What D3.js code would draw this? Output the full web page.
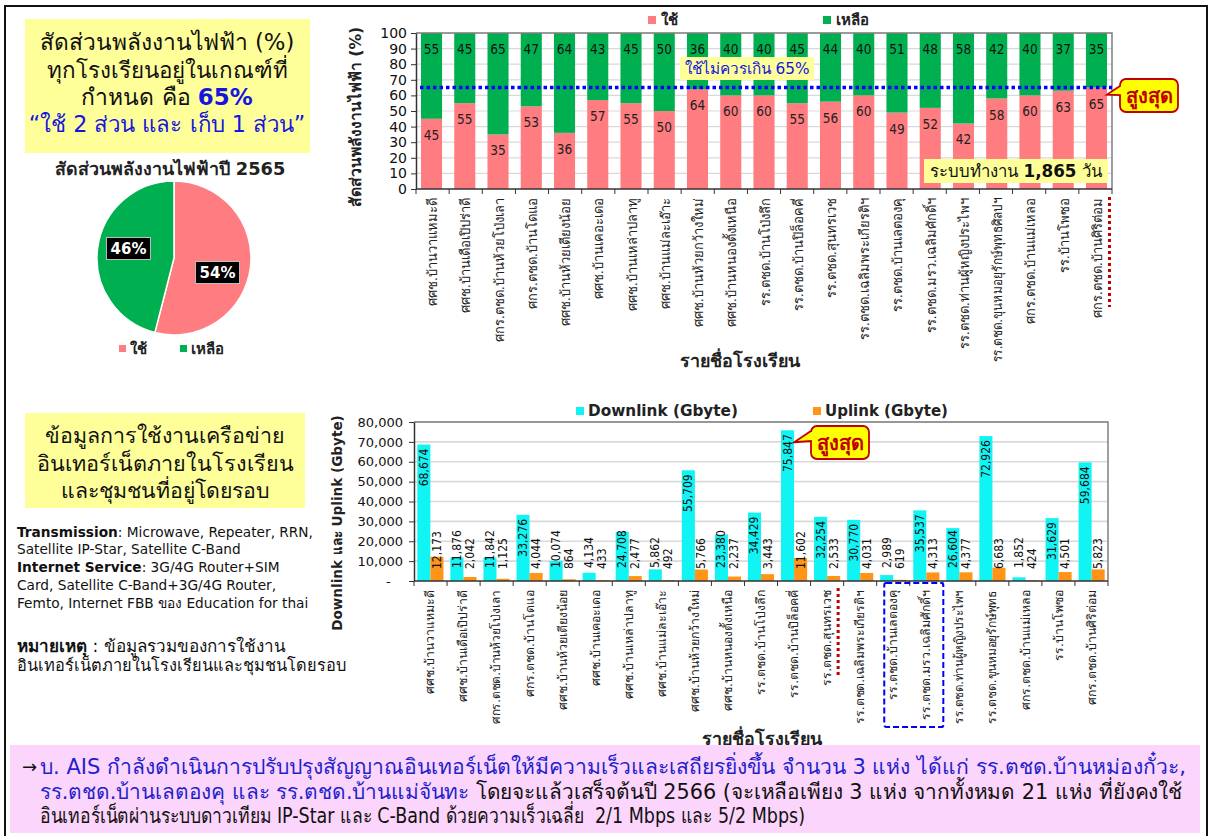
<!DOCTYPE html>
<html>
<head>
<meta charset="utf-8">
<script src="https://cdn.jsdelivr.net/npm/d3@7"></script>
<style>
  html, body { margin: 0; padding: 0; background: #fff; }
  svg { display: block; font-family: Tahoma, "DejaVu Sans", "Noto Sans", sans-serif; }
</style>
</head>
<body>
<svg id="slide" width="1211" height="836"></svg>
<script>
// ---- data -------------------------------------------------------------
const schools = [
  "ศศช.บ้านวาแหมะดี", "ศศช.บ้านเดือเปิปร่าดี", "ศกร.ตชด.บ้านห้วยโป่งเลา", "ศกร.ตชด.บ้านโดแอ",
  "ศศช.บ้านห้วยเตียงน้อย", "ศศช.บ้านเคอะเดอ", "ศศช.บ้านเหล่าปลาทู", "ศศช.บ้านแม่ละเอ๊าะ",
  "ศศช.บ้านห้วยกว้างใหม่", "ศศช.บ้านหนองตั้งเหนือ", "รร.ตชด.บ้านโป่งลึก", "รร.ตชด.บ้านปิล็อคคี่",
  "รร.ตชด.สุนทรเวช", "รร.ตชด.เฉลิมพระเกียรติฯ", "รร.ตชด.บ้านเลตองคุ", "รร.ตชด.มรว.เฉลิมศักดิ์ฯ",
  "รร.ตชด.ท่านผู้หญิงประไพฯ", "รร.ตชด.ขุนหมอยุรักษ์พุทธศิลปฯ", "ศกร.ตชด.บ้านแม่เหลอ", "รร.บ้านโพซอ",
  "ศกร.ตชด.บ้านศิริต่อม"
];
// the same schools as named on the network chart axis
const netSchools = [
  "ศศช.บ้านวาแหมะดี", "ศศช.บ้านเดือเปิปร่าดี", "ศกร.ตชด.บ้านห้วยโป่งเลา", "ศกร.ตชด.บ้านโดแอ",
  "ศศช.บ้านห้วยเตียงน้อย", "ศศช.บ้านเคอะเดอ", "ศศช.บ้านเหล่าปลาทู", "ศศช.บ้านแม่ละเอ๊าะ",
  "ศศช.บ้านห้วยกว้างใหม่", "ศศช.บ้านหนองตั้งเหนือ", "รร.ตชด.บ้านโป่งลึก", "รร.ตชด.บ้านปิล็อคคี่",
  "รร.ตชด.สุนทรเวช", "รร.ตชด.เฉลิมพระเกียรติฯ", "รร.ตชด.บ้านเลตองคุ", "รร.ตชด.มรว.เฉลิมศักดิ์ฯ",
  "รร.ตชด.ท่านผู้หญิงประไพฯ", "รร.ตชด.ขุนหมอยุรักษ์พุทธ", "ศกร.ตชด.บ้านแม่เหลอ", "รร.บ้านโพซอ",
  "ศกร.ตชด.บ้านศิริต่อม"
];
const usedPct   = [45, 55, 35, 53, 36, 57, 55, 50, 64, 60, 60, 55, 56, 60, 49, 52, 42, 58, 60, 63, 65];
const remainPct = [55, 45, 65, 47, 64, 43, 45, 50, 36, 40, 40, 45, 44, 40, 51, 48, 58, 42, 40, 37, 35];
const pctTicks  = [0, 10, 20, 30, 40, 50, 60, 70, 80, 90, 100];
const limitPct  = 65;

const downlink = [68674, 11876, 11842, 33276, 10074, 4134, 24708, 5862, 55709, 23380, 34429,
                  75847, 32254, 30770, 2989, 35537, 26604, 72926, 1852, 31629, 59684];
const uplink   = [12173, 2042, 1125, 4044, 864, 433, 2477, 492, 5766, 2237, 3443,
                  11602, 2533, 4031, 619, 4313, 4377, 6683, 424, 4501, 5823];
const gbTicks  = [0, 10000, 20000, 30000, 40000, 50000, 60000, 70000, 80000];

const pieNames  = ["ใช้", "เหลือ"];
const pieShares = [54, 46];

// ---- styles -----------------------------------------------------------
const PINK = "#FF7C80", GREEN = "#00B050", CYAN = "#11F4F4", ORANGE = "#FF9419";
const PALE = "#FFFF99", GRID = "#d9d9d9";
const NUM = "'DejaVu Sans Condensed', 'DejaVu Sans', sans-serif";

const svg = d3.select("#slide");

// slide frame
svg.append("rect").attr("x", 5).attr("y", 6).attr("width", 1202).attr("height", 840)
  .attr("fill", "#fff").attr("stroke", "#111").attr("stroke-width", 2);

// scale a text element's font so its width equals the target width
function fitWidth(sel, target) {
  const node = sel.node();
  const fs = parseFloat(sel.attr("font-size"));
  const w = node.getComputedTextLength();
  if (w > 0) sel.attr("font-size", (fs * target / w).toFixed(2));
  return sel;
}
// squeeze a text element horizontally when it runs longer than maxLen
function capLength(sel, maxLen) {
  sel.each(function () {
    const L = this.getComputedTextLength();
    if (L > maxLen) d3.select(this).attr("textLength", maxLen).attr("lengthAdjust", "spacingAndGlyphs");
  });
  return sel;
}

// ---- left panel: energy summary ---------------------------------------
svg.append("rect").attr("x", 25).attr("y", 19).attr("width", 285).attr("height", 134).attr("fill", PALE);
const introLines = [
  { y: 42, w: 255, parts: [{ t: "สัดส่วนพลังงานไฟฟ้า (%)" }] },
  { y: 70, w: 237, parts: [{ t: "ทุกโรงเรียนอยู่ในเกณฑ์ที่" }] },
  { y: 97, w: 172, parts: [{ t: "กำหนด คือ " }, { t: "65%", c: "#1515E0", b: true }] },
  { y: 124, w: 277, parts: [{ t: "“ใช้ 2 ส่วน และ เก็บ 1 ส่วน”", c: "#1515E0" }] }
];
introLines.forEach(l => {
  const t = svg.append("text").attr("x", 167).attr("y", l.y).attr("text-anchor", "middle")
    .attr("dominant-baseline", "central").attr("font-size", 21).attr("fill", "#111");
  l.parts.forEach(p => t.append("tspan").text(p.t).attr("fill", p.c || "#111").attr("font-weight", p.b ? "bold" : null));
  fitWidth(t, l.w);
});

// pie card
svg.append("rect").attr("x", 42).attr("y", 153).attr("width", 255).attr("height", 212).attr("fill", "#fff");
svg.append("text").attr("x", 170).attr("y", 168).attr("text-anchor", "middle").attr("dominant-baseline", "central")
  .attr("font-size", 15).attr("font-weight", "bold").attr("fill", "#222").text("สัดส่วนพลังงานไฟฟ้าปี 2565")
  .call(s => fitWidth(s, 228));

const pieR = 77, pieC = [174, 258];
const pieG = svg.append("g").attr("transform", `translate(${pieC})`);
const arcs = d3.pie().sort(null).value(d => d)(pieShares);
const arcGen = d3.arc().innerRadius(0).outerRadius(pieR);
const labelArc = d3.arc().innerRadius(pieR * 0.57).outerRadius(pieR * 0.57);
pieG.selectAll("path").data(arcs).join("path")
  .attr("d", arcGen).attr("fill", (d, i) => [PINK, GREEN][i])
  .attr("stroke", "#fff").attr("stroke-width", 1.5);
arcs.forEach((a, i) => {
  const [cx, cy] = labelArc.centroid(a);
  const yy = cy + (i === 0 ? 9 : -4);
  const xx = cx + (i === 0 ? 0 : -2);
  pieG.append("rect").attr("x", xx - 22).attr("y", yy - 11).attr("width", 44).attr("height", 22)
    .attr("fill", "#000").attr("stroke", "#bfbfbf").attr("stroke-width", 1);
  pieG.append("text").attr("x", xx).attr("y", yy).attr("text-anchor", "middle").attr("dominant-baseline", "central")
    .attr("font-size", 15).attr("font-weight", "bold").attr("fill", "#fff").text(a.data + "%");
});
// pie legend
[[119, 0], [180, 1]].forEach(([x, i]) => {
  svg.append("rect").attr("x", x).attr("y", 345).attr("width", 7).attr("height", 7).attr("fill", [PINK, GREEN][i]);
  svg.append("text").attr("x", x + 11).attr("y", 349).attr("dominant-baseline", "central")
    .attr("font-size", 15).attr("font-weight", "bold").attr("fill", "#222").text(pieNames[i]);
});

// ---- left panel: network summary --------------------------------------
svg.append("rect").attr("x", 25).attr("y", 413).attr("width", 280).attr("height", 95).attr("fill", PALE);
[["ข้อมูลการใช้งานเครือข่าย", 435, 238], ["อินเทอร์เน็ตภายในโรงเรียน", 463, 252], ["และชุมชนที่อยู่โดยรอบ", 490, 210]]
  .forEach(([s, y, w]) => {
    svg.append("text").attr("x", 165).attr("y", y).attr("text-anchor", "middle").attr("dominant-baseline", "central")
      .attr("font-size", 21).attr("fill", "#111").text(s).call(t => fitWidth(t, w));
  });

const noteLines = [
  [{ t: "Transmission", b: true }, { t: ": Microwave, Repeater, RRN," }],
  [{ t: "Satellite IP-Star, Satellite C-Band" }],
  [{ t: "Internet Service", b: true }, { t: ": 3G/4G Router+SIM" }],
  [{ t: "Card, Satellite C-Band+3G/4G Router," }],
  [{ t: "Femto, Internet FBB ของ Education for thai" }]
];
const noteY = [532, 549, 567, 585, 603];
let noteSize = 13;
noteLines.forEach((parts, i) => {
  const t = svg.append("text").attr("x", 17).attr("y", noteY[i]).attr("dominant-baseline", "central")
    .attr("font-size", 13).attr("fill", "#111");
  parts.forEach(p => t.append("tspan").text(p.t).attr("font-weight", p.b ? "bold" : null));
  if (i === 0) { fitWidth(t, 296); noteSize = parseFloat(t.attr("font-size")); }
  else t.attr("font-size", noteSize);
});
const remark1 = svg.append("text").attr("x", 17).attr("y", 646).attr("dominant-baseline", "central")
  .attr("font-size", 13).attr("fill", "#111");
remark1.append("tspan").attr("font-weight", "bold").text("หมายเหตุ");
remark1.append("tspan").text(" : ข้อมูลรวมของการใช้งาน");
fitWidth(remark1, 270);
svg.append("text").attr("x", 17).attr("y", 665).attr("dominant-baseline", "central")
  .attr("font-size", 13).attr("fill", "#111").text("อินเทอร์เน็ตภายในโรงเรียนและชุมชนโดยรอบ")
  .call(t => fitWidth(t, 325));

// ---- chart 1: electricity share per school ----------------------------
const P1 = { left: 416, right: 1112, top: 33, bottom: 189 };
const x1 = d3.scaleBand().domain(schools).range([P1.left, P1.right]).paddingInner(0.366).paddingOuter(0.15);
const y1 = d3.scaleLinear().domain([0, 100]).range([P1.bottom, P1.top]);
const edge1 = d3.scaleLinear().domain([0, schools.length]).range([P1.left, P1.right]);
const c1 = svg.append("g");

c1.selectAll("line.grid").data(pctTicks.slice(1)).join("line").attr("class", "grid")
  .attr("x1", P1.left).attr("x2", P1.right).attr("y1", d => y1(d)).attr("y2", d => y1(d))
  .attr("stroke", GRID).attr("stroke-width", 1.2);

const rows1 = schools.map((s, i) => ({ s, used: usedPct[i], rest: remainPct[i] }));
c1.selectAll("rect.used").data(rows1).join("rect").attr("class", "used")
  .attr("x", d => x1(d.s)).attr("width", x1.bandwidth())
  .attr("y", d => y1(d.used)).attr("height", d => y1(0) - y1(d.used)).attr("fill", PINK);
c1.selectAll("rect.rest").data(rows1).join("rect").attr("class", "rest")
  .attr("x", d => x1(d.s)).attr("width", x1.bandwidth())
  .attr("y", d => y1(d.used + d.rest)).attr("height", d => y1(d.used) - y1(d.used + d.rest)).attr("fill", GREEN);

c1.selectAll("text.lu").data(rows1).join("text").attr("class", "lu")
  .attr("x", d => x1(d.s) + x1.bandwidth() / 2).attr("y", d => y1(d.used) + 16)
  .attr("text-anchor", "middle").attr("dominant-baseline", "central")
  .attr("font-family", NUM).attr("font-size", 13.5).attr("fill", "#222").text(d => d.used);
c1.selectAll("text.lr").data(rows1).join("text").attr("class", "lr")
  .attr("x", d => x1(d.s) + x1.bandwidth() / 2).attr("y", d => y1(d.used + d.rest) + 16)
  .attr("text-anchor", "middle").attr("dominant-baseline", "central")
  .attr("font-family", NUM).attr("font-size", 13.5).attr("fill", "#111").text(d => d.rest);

// plot frame (top and right)
c1.append("path").attr("d", `M${P1.left},${P1.top}H${P1.right}V${P1.bottom}`)
  .attr("fill", "none").attr("stroke", "#7f7f7f").attr("stroke-width", 1.5);

// y axis
const ay1 = c1.append("g").attr("transform", `translate(${P1.left},0)`)
  .call(d3.axisLeft(y1).tickValues(pctTicks).tickSize(5).tickSizeOuter(0).tickPadding(4));
ay1.select(".domain").attr("stroke", "#333").attr("stroke-width", 1.5);
ay1.selectAll(".tick line").attr("stroke", "#333");
ay1.selectAll(".tick text").attr("font-family", "'DejaVu Sans', sans-serif").attr("font-size", 14).attr("fill", "#111");

// x axis with ticks between categories
c1.append("line").attr("x1", P1.left).attr("x2", P1.right).attr("y1", P1.bottom).attr("y2", P1.bottom)
  .attr("stroke", "#333").attr("stroke-width", 1.5);
c1.selectAll("line.xt").data(d3.range(schools.length + 1)).join("line").attr("class", "xt")
  .attr("x1", d => edge1(d)).attr("x2", d => edge1(d)).attr("y1", P1.bottom).attr("y2", P1.bottom + 5)
  .attr("stroke", "#333");
c1.selectAll("text.xl").data(schools).join("text").attr("class", "xl")
  .attr("transform", d => `translate(${x1(d) + x1.bandwidth() / 2 + 1},${P1.bottom + 9}) rotate(-90)`)
  .attr("text-anchor", "end").attr("dominant-baseline", "central")
  .attr("font-size", 13).attr("fill", "#222").text(d => d)
  .call(s => capLength(s, 164));

// axis titles
c1.append("text").attr("transform", `translate(356,117) rotate(-90)`).attr("text-anchor", "middle")
  .attr("dominant-baseline", "central").attr("font-size", 15).attr("font-weight", "bold").attr("fill", "#222")
  .text("สัดส่วนพลังงานไฟฟ้า (%)").call(t => fitWidth(t, 176));
c1.append("text").attr("x", 740).attr("y", 360).attr("text-anchor", "middle").attr("dominant-baseline", "central")
  .attr("font-size", 15).attr("font-weight", "bold").attr("fill", "#222").text("รายชื่อโรงเรียน")
  .call(t => fitWidth(t, 118));

// legend
[[648, 0, "ใช้", PINK], [823, 1, "เหลือ", GREEN]].forEach(([x, i, name, col]) => {
  c1.append("rect").attr("x", x).attr("y", 16).attr("width", 8).attr("height", 8).attr("fill", col);
  c1.append("text").attr("x", x + 13).attr("y", 20).attr("dominant-baseline", "central")
    .attr("font-size", 15).attr("font-weight", "bold").attr("fill", "#222").text(name);
});

// 65% limit line
c1.append("line").attr("x1", P1.left + 4).attr("x2", P1.right).attr("y1", y1(limitPct)).attr("y2", y1(limitPct))
  .attr("stroke", "#0000FF").attr("stroke-width", 3.5).attr("stroke-dasharray", "3.5 3");
c1.append("rect").attr("x", 680).attr("y", 57).attr("width", 134).attr("height", 23).attr("fill", PALE);
c1.append("text").attr("x", 747).attr("y", 69).attr("text-anchor", "middle").attr("dominant-baseline", "central")
  .attr("font-size", 15).attr("fill", "#1515E0").text("ใช้ไม่ควรเกิน 65%").call(t => fitWidth(t, 126));

// running days note
c1.append("rect").attr("x", 924).attr("y", 159).attr("width", 184).attr("height", 24).attr("fill", PALE);
const daysT = c1.append("text").attr("x", 1016).attr("y", 171).attr("text-anchor", "middle")
  .attr("dominant-baseline", "central").attr("font-size", 15).attr("fill", "#111");
daysT.append("tspan").text("ระบบทำงาน ");
daysT.append("tspan").attr("font-weight", "bold").text("1,865");
daysT.append("tspan").text(" วัน");
fitWidth(daysT, 172);

// callout helper: rounded box with a tail on its left side
function callout(g, x, y, w, h, tipX, tipY, a1, a2, label) {
  const r = 6;
  g.append("path").attr("d",
    `M${x + r},${y}H${x + w - r}A${r},${r} 0 0 1 ${x + w},${y + r}V${y + h - r}A${r},${r} 0 0 1 ${x + w - r},${y + h}` +
    `H${x + r}A${r},${r} 0 0 1 ${x},${y + h - r}V${a2}L${tipX},${tipY}L${x},${a1}V${y + r}A${r},${r} 0 0 1 ${x + r},${y}Z`)
    .attr("fill", "#FFFF00").attr("stroke", "#C00000").attr("stroke-width", 1.8);
  g.append("text").attr("x", x + w / 2).attr("y", y + h / 2).attr("text-anchor", "middle").attr("dominant-baseline", "central")
    .attr("font-size", 17).attr("font-weight", "bold").attr("fill", "#C00000").text(label)
    .call(t => fitWidth(t, w - 12));
}
const last = schools.length - 1;
callout(c1, 1120, 79, 58, 33, x1(schools[last]) + x1.bandwidth(), y1(usedPct[last]) + 7, 86, 95, "สูงสุด");

// highlight marker beside the last school name
c1.append("line").attr("x1", x1(schools[last]) + x1.bandwidth() / 2 + 13).attr("x2", x1(schools[last]) + x1.bandwidth() / 2 + 13)
  .attr("y1", P1.bottom + 8).attr("y2", 307).attr("stroke", "#C00000").attr("stroke-width", 3).attr("stroke-dasharray", "3 3");

// ---- chart 2: internet usage per school --------------------------------
const P2 = { left: 414, right: 1108, top: 422, bottom: 581 };
const x2 = d3.scaleBand().domain(netSchools).range([P2.left, P2.right]).paddingInner(0.21).paddingOuter(0.1);
const sub = d3.scaleBand().domain(["down", "up"]).range([0, x2.bandwidth()]).padding(0);
const y2 = d3.scaleLinear().domain([0, 80000]).range([P2.bottom, P2.top]);
const edge2 = d3.scaleLinear().domain([0, netSchools.length]).range([P2.left, P2.right]);
const c2 = svg.append("g");
const fmt = d3.format(",");

c2.selectAll("line.grid").data(gbTicks.slice(1)).join("line").attr("class", "grid")
  .attr("x1", P2.left).attr("x2", P2.right).attr("y1", d => y2(d)).attr("y2", d => y2(d))
  .attr("stroke", GRID).attr("stroke-width", 1.6);

const rows2 = netSchools.map((s, i) => ({ s, down: downlink[i], up: uplink[i] }));
c2.selectAll("rect.down").data(rows2).join("rect").attr("class", "down")
  .attr("x", d => x2(d.s) + sub("down")).attr("width", sub.bandwidth())
  .attr("y", d => y2(d.down)).attr("height", d => y2(0) - y2(d.down)).attr("fill", CYAN);
c2.selectAll("rect.up").data(rows2).join("rect").attr("class", "up")
  .attr("x", d => x2(d.s) + sub("up")).attr("width", sub.bandwidth())
  .attr("y", d => y2(d.up)).attr("height", d => y2(0) - y2(d.up)).attr("fill", ORANGE);

// value labels, rotated; they sit above the axis when a bar is too short
const labelFloor = P2.bottom - 13;
c2.selectAll("text.ld").data(rows2).join("text").attr("class", "ld")
  .attr("text-anchor", "end").attr("dominant-baseline", "central")
  .attr("font-family", NUM).attr("font-size", 12).attr("fill", "#111").text(d => fmt(d.down))
  .each(function (d) {
    const L = this.getComputedTextLength();
    let top = y2(d.down) + 4;
    if (top + L > labelFloor) top = labelFloor - L;
    const cx = x2(d.s) + sub("down") + sub.bandwidth() / 2;
    d3.select(this).attr("transform", `translate(${cx},${top}) rotate(-90)`);
  });
c2.selectAll("text.lup").data(rows2).join("text").attr("class", "lup")
  .attr("text-anchor", "start").attr("dominant-baseline", "central")
  .attr("font-family", NUM).attr("font-size", 12).attr("fill", "#111").text(d => fmt(d.up))
  .attr("transform", d => `translate(${x2(d.s) + sub("up") + sub.bandwidth() / 2},${labelFloor + 1}) rotate(-90)`);

c2.append("path").attr("d", `M${P2.left},${P2.top}H${P2.right}V${P2.bottom}`)
  .attr("fill", "none").attr("stroke", "#7f7f7f").attr("stroke-width", 1.5);

const ay2 = c2.append("g").attr("transform", `translate(${P2.left},0)`)
  .call(d3.axisLeft(y2).tickValues(gbTicks).tickSize(5).tickSizeOuter(0).tickPadding(6)
    .tickFormat(d => d === 0 ? "-   " : fmt(d)));
ay2.select(".domain").attr("stroke", "#333").attr("stroke-width", 1.5);
ay2.selectAll(".tick line").attr("stroke", "#333");
ay2.selectAll(".tick text").attr("font-family", "'DejaVu Sans', sans-serif").attr("font-size", 13).attr("fill", "#111")
  .style("white-space", "pre");

c2.append("line").attr("x1", P2.left).attr("x2", P2.right).attr("y1", P2.bottom).attr("y2", P2.bottom)
  .attr("stroke", "#333").attr("stroke-width", 1.5);
c2.selectAll("line.xt").data(d3.range(netSchools.length + 1)).join("line").attr("class", "xt")
  .attr("x1", d => edge2(d)).attr("x2", d => edge2(d)).attr("y1", P2.bottom).attr("y2", P2.bottom + 5)
  .attr("stroke", "#333");
c2.selectAll("text.xl").data(netSchools).join("text").attr("class", "xl")
  .attr("transform", d => `translate(${x2(d) + x2.bandwidth() / 2},${P2.bottom + 9}) rotate(-90)`)
  .attr("text-anchor", "end").attr("dominant-baseline", "central")
  .attr("font-size", 12.3).attr("fill", "#222").text(d => d)
  .call(s => capLength(s, 134));

c2.append("text").attr("transform", `translate(337,523) rotate(-90)`).attr("text-anchor", "middle")
  .attr("dominant-baseline", "central").attr("font-size", 15).attr("font-weight", "bold").attr("fill", "#222")
  .text("Downlink และ Uplink (Gbyte)").call(t => fitWidth(t, 216));
c2.append("text").attr("x", 762).attr("y", 738).attr("text-anchor", "middle").attr("dominant-baseline", "central")
  .attr("font-size", 15).attr("font-weight", "bold").attr("fill", "#222").text("รายชื่อโรงเรียน")
  .call(t => fitWidth(t, 118));

[[576, "Downlink (Gbyte)", CYAN, 150], [813, "Uplink (Gbyte)", ORANGE, 123]].forEach(([x, name, col, w]) => {
  c2.append("rect").attr("x", x).attr("y", 407).attr("width", 8).attr("height", 8).attr("fill", col);
  c2.append("text").attr("x", x + 12).attr("y", 411).attr("dominant-baseline", "central")
    .attr("font-size", 15).attr("font-weight", "bold").attr("fill", "#222").text(name).call(t => fitWidth(t, w));
});

// peak downlink callout
const peak = downlink.indexOf(d3.max(downlink));
callout(c2, 811, 426, 58, 33, x2(netSchools[peak]) + sub("down") + sub.bandwidth(), y2(downlink[peak]) + 12, 431, 441, "สูงสุด");

// markers under the school names
const mk = 12;
const mx = x2(netSchools[mk]) + x2.bandwidth() / 2 + 11;
c2.append("line").attr("x1", mx).attr("x2", mx).attr("y1", P2.bottom + 7).attr("y2", 678)
  .attr("stroke", "#C00000").attr("stroke-width", 3).attr("stroke-dasharray", "3 3");
const b0 = x2(netSchools[14]) + x2.bandwidth() / 2 - 9, b1 = x2(netSchools[15]) + x2.bandwidth() / 2 + 17;
c2.append("rect").attr("x", b0).attr("y", P2.bottom + 2).attr("width", b1 - b0).attr("height", 144).attr("rx", 2)
  .attr("fill", "none").attr("stroke", "#0000FF").attr("stroke-width", 2).attr("stroke-dasharray", "6 3");

// ---- bottom banner -----------------------------------------------------
svg.append("rect").attr("x", 10).attr("y", 745).attr("width", 1190).attr("height", 88).attr("fill", "#FCD5FC");
svg.append("text").attr("x", 22).attr("y", 766).attr("dominant-baseline", "central").attr("font-size", 18)
  .attr("fill", "#111").text("→");
const BLUE = "#1F1FCC";
const bannerLines = [
  { y: 766, w: 1152, parts: [{ t: "บ. AIS กำลังดำเนินการปรับปรุงสัญญาณอินเทอร์เน็ตให้มีความเร็วและเสถียรยิ่งขึ้น จำนวน 3 แห่ง ได้แก่ รร.ตชด.บ้านหม่องกั๋วะ,", c: BLUE }] },
  { y: 791, w: 1142, parts: [{ t: "รร.ตชด.บ้านเลตองคุ และ รร.ตชด.บ้านแม่จันทะ", c: BLUE }, { t: " โดยจะแล้วเสร็จต้นปี 2566 (จะเหลือเพียง 3 แห่ง จากทั้งหมด 21 แห่ง ที่ยังคงใช้", c: "#111" }] },
  { y: 815, w: 765, parts: [{ t: "อินเทอร์เน็ตผ่านระบบดาวเทียม IP-Star และ C-Band ด้วยความเร็วเฉลี่ย  2/1 Mbps และ 5/2 Mbps)", c: "#111" }] }
];
let bannerSize = 17;
bannerLines.forEach((l, i) => {
  const t = svg.append("text").attr("x", 40).attr("y", l.y).attr("dominant-baseline", "central")
    .attr("font-size", 17).style("white-space", "pre");
  l.parts.forEach(p => t.append("tspan").attr("fill", p.c).text(p.t));
  if (i === 0) { fitWidth(t, l.w); bannerSize = parseFloat(t.attr("font-size")); }
  else {
    t.attr("font-size", bannerSize);
    t.attr("textLength", l.w).attr("lengthAdjust", "spacingAndGlyphs");
  }
});
</script>
</body>
</html>
